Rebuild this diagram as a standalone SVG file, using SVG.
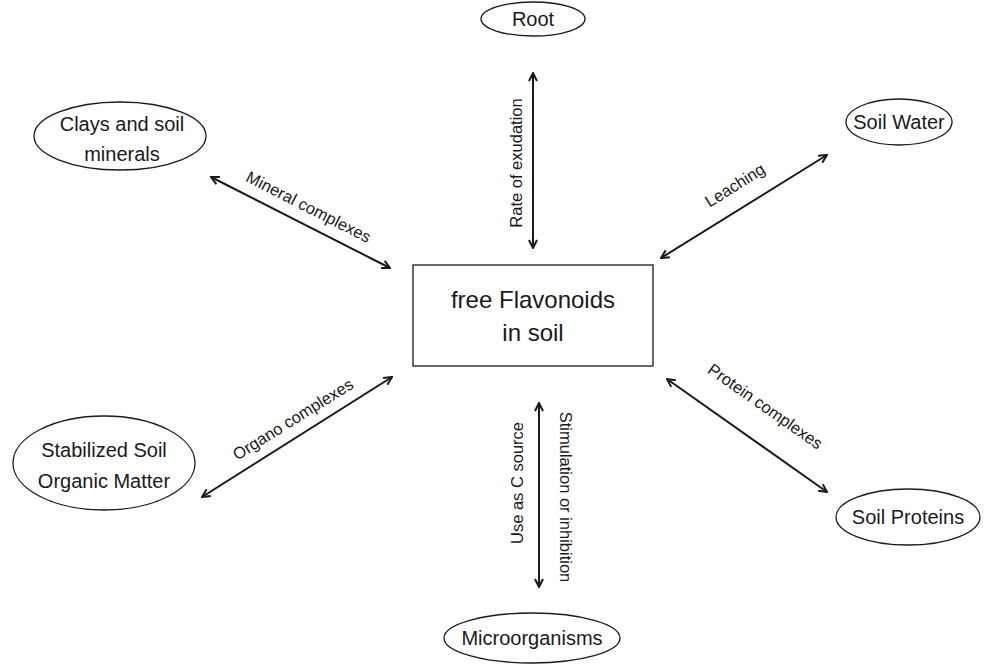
<svg xmlns="http://www.w3.org/2000/svg" width="984" height="665" viewBox="0 0 984 665">
<defs>
<marker id="ah" viewBox="0 0 10 10" refX="9" refY="5" markerWidth="10" markerHeight="10" markerUnits="userSpaceOnUse" orient="auto-start-reverse">
<path d="M1,1 L9,5 L1,9" fill="none" stroke="#1a1a1a" stroke-width="2"/>
</marker>
<style>
.n{fill:#fff;stroke:#1a1a1a;stroke-width:1.3}
.t{font-family:"Liberation Sans",Arial,sans-serif;fill:#1a1a1a;text-anchor:middle}
.big{font-size:24px}
.md{font-size:20px}
.lb{font-size:16.5px}
.c{stroke:#1a1a1a;stroke-width:2;fill:none;marker-start:url(#ah);marker-end:url(#ah)}
</style>
</defs>
<rect width="984" height="665" fill="#fff"/>
<g id="center">
<rect class="n" x="413" y="265" width="240" height="101" stroke-width="1.6"/>
<text class="t big" x="533" y="308">free Flavonoids</text>
<text class="t big" x="533" y="341">in soil</text>
</g>
<g id="root">
<ellipse class="n" cx="533" cy="19" rx="52" ry="17"/>
<text class="t md" x="533" y="26">Root</text>
</g>
<g id="soilwater">
<ellipse class="n" cx="899" cy="122" rx="53" ry="23"/>
<text class="t md" x="899" y="129">Soil Water</text>
</g>
<g id="clays">
<ellipse class="n" cx="120" cy="136" rx="86" ry="34"/>
<text class="t md" x="122" y="131">Clays and soil</text>
<text class="t md" x="122" y="161">minerals</text>
</g>
<g id="stabilized">
<ellipse class="n" cx="104" cy="463" rx="91" ry="47"/>
<text class="t md" x="104" y="457">Stabilized Soil</text>
<text class="t md" x="104" y="488">Organic Matter</text>
</g>
<g id="proteins">
<ellipse class="n" cx="908" cy="517" rx="72" ry="28"/>
<text class="t md" x="908" y="524">Soil Proteins</text>
</g>
<g id="microorganisms">
<ellipse class="n" cx="532" cy="638" rx="88" ry="25"/>
<text class="t md" x="532" y="645">Microorganisms</text>
</g>
<g id="connectors">
<line class="c" x1="533" y1="73" x2="533" y2="248"/>
<line class="c" x1="211" y1="177" x2="390" y2="268"/>
<line class="c" x1="661" y1="258" x2="827" y2="155"/>
<line class="c" x1="392" y1="377" x2="202" y2="497"/>
<line class="c" x1="667" y1="379" x2="827" y2="492"/>
<line class="c" x1="539" y1="403" x2="539" y2="587"/>
<text class="t lb" transform="translate(522,163) rotate(-90)">Rate of exudation</text>
<text class="t lb" transform="translate(306,212) rotate(27)">Mineral complexes</text>
<text class="t lb" transform="translate(738,190) rotate(-32)">Leaching</text>
<text class="t lb" transform="translate(296,424) rotate(-32)">Organo complexes</text>
<text class="t lb" transform="translate(762,411) rotate(35)">Protein complexes</text>
<text class="t lb" transform="translate(523,483) rotate(-90)">Use as C source</text>
<text class="t lb" transform="translate(560,497) rotate(90)">Stimulation or inhibition</text>
</g>
</svg>
